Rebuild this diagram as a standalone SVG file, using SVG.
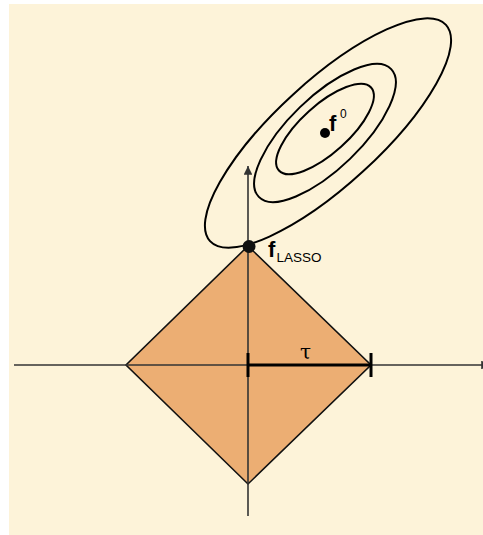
<svg xmlns="http://www.w3.org/2000/svg" width="483" height="535" viewBox="0 0 483 535">
<style>
.axis{stroke:#333;stroke-width:1.6;fill:none}
.ell{stroke:#000;stroke-width:2;fill:none}
.lbl{font-family:"Liberation Sans",Arial,sans-serif;fill:#000}
</style>
<defs>
<marker id="arr" viewBox="0 0 10 10" refX="10" refY="5" markerWidth="5.5" markerHeight="5.5" orient="auto" markerUnits="strokeWidth">
<path d="M0,0 L10,5 L0,10 z" fill="#333"/>
</marker>
</defs>
<rect x="9" y="4" width="474" height="531" fill="#fdf3d9"/>
<g id="diamond">
<polygon points="248,246 371,365 248,484 126,365" fill="#ecae73" stroke="#111" stroke-width="1.6"/>
</g>
<g id="connectors">
<line class="axis" x1="14" y1="365" x2="490" y2="365" marker-end="url(#arr)"/>
<line class="axis" x1="248" y1="516" x2="248" y2="166" marker-end="url(#arr)"/>
</g>
<g id="tau">
<line x1="248" y1="365" x2="371" y2="365" stroke="#000" stroke-width="3"/>
<line x1="248" y1="353" x2="248" y2="377" stroke="#000" stroke-width="3"/>
<line x1="371" y1="353" x2="371" y2="377" stroke="#000" stroke-width="3"/>
<text x="300" y="359" font-family="'DejaVu Serif',serif" font-size="20">τ</text>
</g>
<g id="contours">
<ellipse class="ell" cx="328" cy="133" rx="160" ry="52" transform="rotate(-42.5 328 133)"/>
<ellipse class="ell" cx="325" cy="133" rx="92" ry="36" transform="rotate(-44 325 133)"/>
<ellipse class="ell" cx="325" cy="129" rx="62" ry="24" transform="rotate(-42 325 129)"/>
</g>
<g id="f0">
<circle cx="325" cy="133" r="5" fill="#000"/>
<text class="lbl" x="329" y="131" font-size="22" font-weight="bold">f</text>
<text class="lbl" x="340" y="117.5" font-size="12">0</text>
</g>
<g id="flasso">
<circle cx="249" cy="246.5" r="6.5" fill="#111"/>
<text class="lbl" x="268" y="257" font-size="22" font-weight="bold">f</text>
<text class="lbl" x="276.5" y="262" font-size="13.5">LASSO</text>
</g>
</svg>
